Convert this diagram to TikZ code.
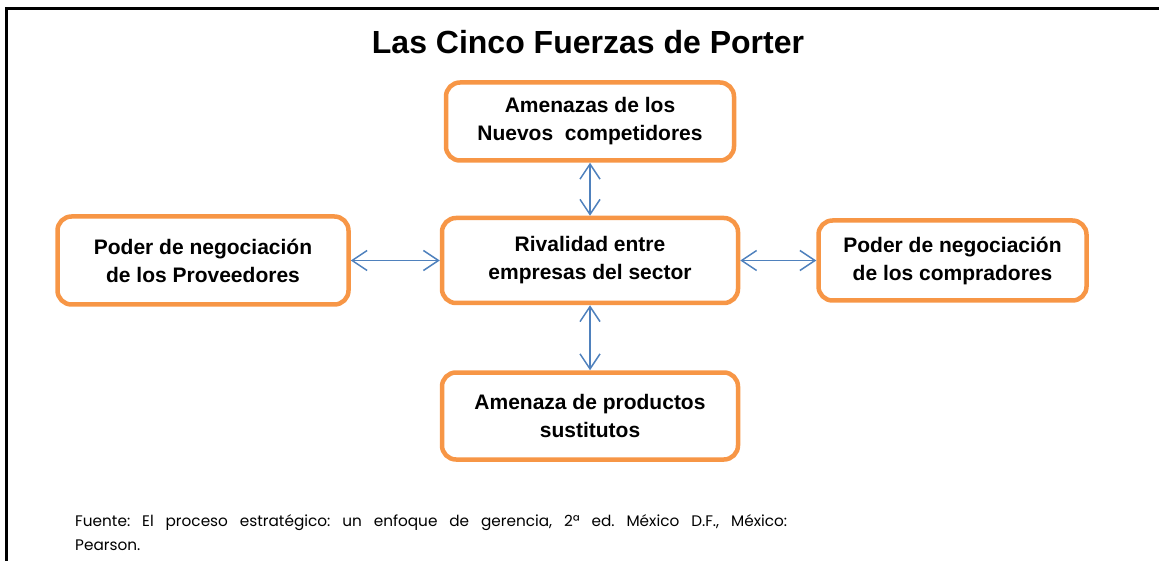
\documentclass[tikz,border=0pt]{standalone}
\usepackage{fontspec}
\setmainfont{Liberation Sans}
\newfontfamily\gothic{Poppins}
\usetikzlibrary{positioning, arrows.meta}
\definecolor{fuerza}{HTML}{F79646}
\definecolor{flecha}{HTML}{4F81BD}

\begin{document}
\frenchspacing
\begin{tikzpicture}[x=1pt, y=-1pt, node distance=50pt,
    fuerza/.style={draw=fuerza, line width=4.5pt, rounded corners=14pt, fill=white, align=center,
        minimum height=84pt, font=\bfseries\fontsize{21}{28}\selectfont},
    doble/.style={draw=flecha, line width=1.5pt,
        {Straight Barb[length=15pt,width=20pt]}-{Straight Barb[length=15pt,width=20pt]}}]
    \useasboundingbox (0,0) rectangle (1159,561);
    \clip (0,0) rectangle (1159,561);
    \draw[line width=2.5pt] (6.5,600) -- (6.5,8.5) -- (1200,8.5);
    \node (titulo) at (588,42) {\bfseries\fontsize{32}{38}\selectfont Las Cinco Fuerzas de Porter};
    \node[fuerza, minimum width=296pt, minimum height=85pt] (rival) at (590,260.5) {Rivalidad entre\\empresas del sector};
    \node[fuerza, minimum width=288pt, minimum height=78pt, above=53pt of rival] (nuevos) {Amenazas de los\\Nuevos\ \ competidores};
    \node[fuerza, minimum width=296pt, minimum height=87pt, below=65pt of rival] (sust) {Amenaza de productos\\sustitutos};
    \node[fuerza, minimum width=291pt, minimum height=88pt, left=89pt of rival] (prov) {Poder de negociación\\de los Proveedores};
    \node[fuerza, minimum width=268pt, minimum height=80pt, right=76pt of rival] (compr) {Poder de negociación\\de los compradores};
    \draw[doble] (nuevos.south) -- (rival.north);
    \draw[doble] (rival.south) -- (sust.north);
    \draw[doble] (prov.east) -- (rival.west);
    \draw[doble] (rival.east) -- (compr.west);
    \node[anchor=north west, inner sep=0pt, text width=712pt, align=justify,
        font=\gothic\fontsize{15.3}{24}\selectfont] (fuente) at (75,514)
        {Fuente: El proceso estratégico: un enfoque de gerencia, 2ª ed. México D.F., México:\linebreak Pearson.};
\end{tikzpicture}
\end{document}
